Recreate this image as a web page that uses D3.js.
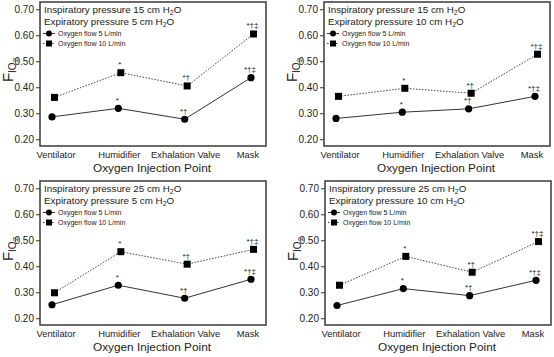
<!DOCTYPE html>
<html><head><meta charset="utf-8">
<script src="https://cdn.jsdelivr.net/npm/d3@7"></script>
<style>body{margin:0;background:#fff}svg{display:block;font-family:"Liberation Sans",Arial,sans-serif}</style>
</head><body><svg id="c" width="554" height="357"></svg>
<script>
const categories = ["Ventilator","Humidifier","Exhalation Valve","Mask"];
const inspPressure = [15,15,25,25];
const expPressure = [5,10,5,10];
const flow5 = [
  [0.286,0.319,0.277,0.437],
  [0.280,0.304,0.317,0.365],
  [0.252,0.327,0.277,0.350],
  [0.249,0.314,0.287,0.346]
];
const flow10 = [
  [0.361,0.456,0.405,0.605],
  [0.365,0.396,0.377,0.527],
  [0.298,0.456,0.408,0.465],
  [0.327,0.438,0.377,0.495]
];
const marks = ["","*","*\u2020","*\u2020\u2021"];
const yTicks = [0.20,0.30,0.40,0.50,0.60,0.70];
const seriesNames = ["Oxygen flow 5 L/min","Oxygen flow 10 L/min"];

const svg = d3.select("#c");
const panels = [
  {x:40, y:2},
  {x:324, y:2},
  {x:40, y:181},
  {x:325, y:181}
];
const W = 226, H = 144;

panels.forEach((p,i)=>{
  const g = svg.append("g").attr("transform",`translate(${p.x},${p.y})`);
  const x = d3.scalePoint().domain(categories).range([12,211]);
  const y = d3.scaleLinear().domain([0.174,0.728]).range([H,0]);

  const ya = g.append("g").call(d3.axisLeft(y).tickValues(yTicks).tickFormat(d3.format(".2f")).tickSize(4).tickPadding(2));
  ya.select(".domain").remove();
  ya.selectAll("line").attr("stroke","#333");
  ya.selectAll("text").attr("font-size",10).attr("fill","#222").attr("font-family","Liberation Sans, Arial, sans-serif");

  g.append("g").selectAll("text").data(categories).join("text")
    .attr("x",d=>x(d)+ (d==="Ventilator"?4:(d==="Mask"?-3:1)))
    .attr("y",H+11.5).attr("text-anchor","middle").attr("font-size",9.4).attr("fill","#222").text(d=>d);

  g.append("text").attr("x",W/2-1).attr("y",H+25.5).attr("text-anchor","middle")
    .attr("font-size",11.8).attr("fill","#222").text("Oxygen Injection Point");

  const yl = g.append("text").attr("transform",`translate(-27,${H/2-4}) rotate(-90)`).attr("text-anchor","middle").attr("fill","#222");
  yl.append("tspan").attr("font-size",15).text("F");
  yl.append("tspan").attr("font-size",10).attr("dy",3).text("IO");
  yl.append("tspan").attr("font-size",8).attr("dy",2).text("2");

  g.append("rect").attr("x",0).attr("y",0).attr("width",W).attr("height",H)
    .attr("fill","none").attr("stroke","#3a3a3a").attr("stroke-width",1.5);

  const t1 = g.append("text").attr("x",4).attr("y",11).attr("font-size",9.8).attr("fill","#222");
  t1.append("tspan").text(`Inspiratory pressure ${inspPressure[i]} cm H`);
  t1.append("tspan").attr("font-size",7).attr("dy",2).text("2");
  t1.append("tspan").attr("dy",-2).text("O");
  const t2 = g.append("text").attr("x",4).attr("y",22.5).attr("font-size",9.8).attr("fill","#222");
  t2.append("tspan").text(`Expiratory pressure ${expPressure[i]} cm H`);
  t2.append("tspan").attr("font-size",7).attr("dy",2).text("2");
  t2.append("tspan").attr("dy",-2).text("O");

  const lg = g.append("g");
  [0,1].forEach(k=>{
    const ly = 31.5 + k*10;
    lg.append("line").attr("x1",3).attr("x2",15).attr("y1",ly).attr("y2",ly)
      .attr("stroke","#333").attr("stroke-width",1).attr("stroke-dasharray",k?"1.5,1.5":null);
    if(k===0) lg.append("circle").attr("cx",9).attr("cy",ly).attr("r",3).attr("fill","#000");
    else lg.append("rect").attr("x",6).attr("y",ly-3).attr("width",6).attr("height",6).attr("fill","#000");
    lg.append("text").attr("x",18).attr("y",ly+2.5).attr("font-size",7).attr("fill","#222").text(seriesNames[k]);
  });

  const line = d3.line().x(d=>d[0]).y(d=>d[1]);
  const p10 = flow10[i].map((v,j)=>[x(categories[j])+2.5, y(v)]);
  const p5 = flow5[i].map((v,j)=>[x(categories[j]), y(v)]);

  g.append("path").attr("d",line(p10)).attr("fill","none").attr("stroke","#444").attr("stroke-width",1).attr("stroke-dasharray","1.5,1.5");
  g.append("path").attr("d",line(p5)).attr("fill","none").attr("stroke","#333").attr("stroke-width",1);

  g.append("g").selectAll("rect").data(p10).join("rect")
    .attr("x",d=>d[0]-3.5).attr("y",d=>d[1]-3.5).attr("width",7).attr("height",7).attr("fill","#000");
  g.append("g").selectAll("circle").data(p5).join("circle")
    .attr("cx",d=>d[0]).attr("cy",d=>d[1]).attr("r",3.6).attr("fill","#000");

  [p5,p10].forEach(pts=>{
    g.append("g").selectAll("text").data(pts).join("text")
      .attr("x",d=>d[0]-1).attr("y",d=>d[1]-5.5).attr("text-anchor","middle")
      .attr("font-size",8).attr("fill","#222").text((d,j)=>marks[j]);
  });
});
</script></body></html>
